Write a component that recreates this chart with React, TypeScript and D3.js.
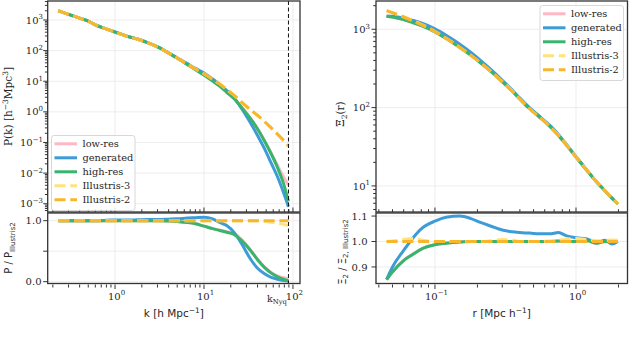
import React from "react";
import * as d3 from "d3";

// ---------- Data: power spectrum (left) ----------
const kValues = [0.23, 0.3, 0.4, 0.5, 0.6, 0.75, 0.9, 1.1, 1.4, 1.8, 2.3, 3, 4, 5, 6.5, 8, 10, 12.5, 15, 18, 22, 27, 33, 40, 48, 57, 67, 78, 89];
const pkIllustris2 = [2000, 1530, 1150, 920, 690, 540, 450, 365, 287, 235, 183, 132, 83, 57, 36, 25, 17.5, 11.6, 8.2, 5.4, 3.4, 1.97, 1.2, 0.77, 0.48, 0.3, 0.19, 0.12, 0.08];
const pkIllustris3 = [2000, 1530, 1150, 920, 690, 540, 450, 365, 287, 235, 183, 132, 83, 57, 36, 25, 17.5, 11.6, 8.2, 5.4, 3.4, 1.97, 1.2, 0.77, 0.475, 0.293, 0.182, 0.113, 0.074];
const pkGenerated = [2000, 1530, 1150, 920, 690, 543, 455, 369, 290, 239, 187, 135, 85, 58.7, 37.6, 26.3, 18.5, 11.9, 7.95, 4.97, 2.72, 1.18, 0.456, 0.169, 0.062, 0.021, 0.0076, 0.0024, 0.0008];
const pkHighRes = [2000, 1530, 1150, 920, 690, 540, 450, 365, 287, 235, 183, 132, 82.6, 56.1, 34.9, 23.8, 15.9, 10.1, 6.9, 4.37, 2.62, 1.3, 0.62, 0.277, 0.11, 0.042, 0.0152, 0.0048, 0.0012];
const pkLowRes = [2000, 1530, 1150, 920, 690, 540, 450, 365, 287, 235, 183, 132, 82.6, 56.1, 34.9, 23.8, 15.9, 10.1, 6.9, 4.43, 2.69, 1.34, 0.64, 0.285, 0.115, 0.045, 0.018, 0.0078, 0.004];

const ratioPkIllustris2 = kValues.map(() => 1);
const ratioPkIllustris3 = [1, 1, 1, 1, 1, 1, 1, 1, 1, 1, 1, 1, 1, 1, 1, 1, 1, 1, 1, 1, 1, 1, 1, 1, 0.99, 0.975, 0.96, 0.94, 0.92];
const ratioPkGenerated = [1, 1, 1, 1, 1, 1.005, 1.01, 1.01, 1.01, 1.015, 1.02, 1.02, 1.025, 1.03, 1.045, 1.05, 1.055, 1.03, 0.97, 0.92, 0.8, 0.6, 0.38, 0.22, 0.13, 0.07, 0.04, 0.02, 0.01];
const ratioPkHighRes = [1, 1, 1, 1, 1, 1, 1, 1, 1, 1, 1, 1, 0.995, 0.985, 0.97, 0.95, 0.91, 0.87, 0.84, 0.81, 0.77, 0.66, 0.52, 0.36, 0.23, 0.14, 0.08, 0.04, 0.015];
const ratioPkLowRes = [1, 1, 1, 1, 1, 1, 1, 1, 1, 1, 1, 1, 0.995, 0.985, 0.97, 0.95, 0.91, 0.87, 0.845, 0.82, 0.79, 0.68, 0.53, 0.37, 0.24, 0.15, 0.095, 0.065, 0.05];

// ---------- Data: correlation (right) ----------
const rValues = [0.0454, 0.05, 0.06, 0.07, 0.08, 0.1, 0.12, 0.15, 0.18, 0.21, 0.25, 0.3, 0.35, 0.4, 0.47, 0.55, 0.65, 0.75, 0.86, 1.0, 1.2, 1.4, 1.6, 1.8, 1.98];
const xiIllustris2 = [1730, 1627, 1434, 1274, 1145, 938, 766, 587, 464, 374, 288, 213, 164, 128, 96, 75.5, 57.9, 44, 32.8, 23.4, 15.6, 11.3, 8.7, 7.0, 5.9];
const xiIllustris3 = [1730, 1630, 1445, 1289, 1152, 938, 766, 587, 464, 374, 289, 215, 165, 128, 96, 75.5, 58, 44.2, 33.1, 23.7, 15.7, 11.3, 8.74, 7.04, 5.93];
const xiGenerated = [1470, 1464, 1384, 1293, 1202, 1013, 839, 646, 506, 402, 305, 223, 170, 132, 99.2, 77.8, 59.6, 45.5, 33.5, 23.75, 15.76, 11.25, 8.74, 6.93, 5.9];
const xiHighRes = [1470, 1432, 1326, 1210, 1111, 926, 761, 586, 464, 374, 288, 213, 164, 128, 96, 75.5, 57.9, 44.1, 32.8, 23.4, 15.6, 11.2, 8.7, 7.0, 5.9];
const xiLowRes = [1474, 1435, 1329, 1213, 1111, 927, 761, 586, 464, 374, 288, 213, 164, 128, 96, 75.5, 57.9, 44.1, 32.8, 23.4, 15.6, 11.2, 8.7, 7.0, 5.9];

const ratioXiIllustris2 = rValues.map(() => 1);
const ratioXiIllustris3 = [1.0, 1.002, 1.008, 1.012, 1.006, 1.0, 1.0, 1.0, 1.0, 1.0, 1.003, 1.008, 1.006, 1.0, 1.0, 1.0, 1.002, 1.005, 1.01, 1.012, 1.008, 1.003, 1.005, 1.006, 1.005];
const ratioXiGenerated = [0.85, 0.9, 0.965, 1.015, 1.05, 1.08, 1.095, 1.1, 1.09, 1.075, 1.06, 1.045, 1.038, 1.035, 1.033, 1.03, 1.03, 1.035, 1.022, 1.015, 1.01, 0.996, 1.005, 0.99, 1.0];
const ratioXiHighRes = [0.85, 0.88, 0.925, 0.95, 0.97, 0.987, 0.993, 0.998, 1.0, 1.0, 1.0, 1.0, 1.0, 1.0, 1.0, 1.0, 1.0, 1.002, 1.0, 1.0, 1.003, 0.993, 1.0, 1.0, 1.0];
const ratioXiLowRes = [0.852, 0.882, 0.927, 0.952, 0.97, 0.988, 0.994, 0.998, 1.0, 1.0, 1.0, 1.0, 1.0, 1.0, 1.0, 1.0, 1.0, 1.002, 1.0, 1.0, 1.003, 0.993, 1.0, 1.0, 1.0];

const seriesNames = ["low-res", "generated", "high-res", "Illustris-3", "Illustris-2"];
const kNyquist = 89;

// ---------- Styles ----------
const COLORS = ["#ffb7c3", "#3d9bd8", "#38b46c", "#ffe27c", "#f8b62b"];
const isDashed = (i: number) => i >= 3;
const LW = 3;
const DASH = "11,4.8";
const FRAME = "#333";
const GRID = "#ebebeb";
const SERIF = "DejaVu Serif";
const SANS = "DejaVu Sans";

const LX: [number, number] = [47.7, 300];
const RX: [number, number] = [376, 627.5];
const TOPY: [number, number] = [1, 212];
const BOTY: [number, number] = [213, 283.5];

const xK = d3.scaleLog().domain([0.175, 120]).range(LX);
const yPk = d3.scaleLog().domain([Math.pow(10, -3.27), Math.pow(10, 3.62)]).range([TOPY[1], TOPY[0]]);
const yPkRatio = d3.scaleLinear().domain([-0.03, 1.126]).range([BOTY[1], BOTY[0]]);
const xR = d3.scaleLog().domain([Math.pow(10, -1.418), Math.pow(10, 0.365)]).range(RX);
const yXi = d3.scaleLog().domain([Math.pow(10, 0.667), Math.pow(10, 3.361)]).range([TOPY[1], TOPY[0]]);
const yXiRatio = d3.scaleLinear().domain([0.835, 1.112]).range([BOTY[1], BOTY[0]]);

function logTicks(domain: number[]) {
  const out: { v: number; major: boolean; e: number }[] = [];
  const lo = Math.floor(Math.log10(domain[0]));
  const hi = Math.ceil(Math.log10(domain[1]));
  for (let e = lo; e <= hi; e++) {
    for (let m = 1; m <= 9; m++) {
      const v = m * Math.pow(10, e);
      if (v >= domain[0] * 0.9999 && v <= domain[1] * 1.0001) out.push({ v, major: m === 1, e });
    }
  }
  return out;
}
const fmtExp = (e: number) => (e < 0 ? "\u2212" + Math.abs(e) : String(e));

function PowLabel({ x, y, e, anchor, size = 10 }: any) {
  return (
    <text x={x} y={y} textAnchor={anchor} fontFamily={SERIF} fontSize={size} fill="#262626">
      10<tspan dy={-size * 0.42} fontSize={size * 0.7}>{fmtExp(e)}</tspan>
    </text>
  );
}

function Curves({ xs, ys, xScale, yScale, clip }: any) {
  return (
    <g clipPath={`url(#${clip})`}>
      {ys.map((vals: number[], i: number) => {
        const line = d3
          .line<number>()
          .x((_, j) => xScale(xs[j]))
          .y((d) => yScale(d))
          .curve(d3.curveMonotoneX);
        return (
          <path
            key={i}
            d={line(vals) || ""}
            fill="none"
            stroke={COLORS[i]}
            strokeWidth={LW}
            strokeDasharray={isDashed(i) ? DASH : undefined}
            strokeLinecap="butt"
            strokeLinejoin="round"
          />
        );
      })}
    </g>
  );
}

function Frame({ x, y }: { x: number[]; y: number[] }) {
  return <rect x={x[0]} y={y[0]} width={x[1] - x[0]} height={y[1] - y[0]} fill="none" stroke={FRAME} strokeWidth={1.3} />;
}

function Legend({ x, y }: { x: number; y: number }) {
  const w = 83.5;
  const h = 75;
  return (
    <g>
      <rect x={x} y={y} width={w} height={h} rx={2.5} fill="#fff" fillOpacity={0.85} stroke="#d4d4d4" strokeWidth={0.9} />
      {seriesNames.map((n, i) => {
        const cy = y + 8.3 + i * 14;
        return (
          <g key={n}>
            <line x1={x + 3} x2={x + 25.5} y1={cy} y2={cy} stroke={COLORS[i]} strokeWidth={LW} strokeDasharray={isDashed(i) ? DASH : undefined} />
            <text x={x + 31} y={cy} dominantBaseline="central" fontFamily={SERIF} fontSize={9.8} fill="#262626">
              {n}
            </text>
          </g>
        );
      })}
    </g>
  );
}

export default function App() {
  const kTicks = logTicks(xK.domain());
  const rTicks = logTicks(xR.domain());
  const pkTicks = logTicks(yPk.domain());
  const xiTicks = logTicks(yXi.domain());

  const xTickMarksTop = (ticks: any[], sc: any) =>
    ticks.map((t, i) => (
      <line key={"tt" + i} x1={sc(t.v)} x2={sc(t.v)} y1={TOPY[1]} y2={TOPY[1] - (t.major ? 4.5 : 2.8)} stroke={FRAME} strokeWidth={1} />
    ));
  const xTickMarksBot = (ticks: any[], sc: any) =>
    ticks.map((t, i) => (
      <line key={"tb" + i} x1={sc(t.v)} x2={sc(t.v)} y1={BOTY[1] + 1} y2={BOTY[1] + (t.major ? 5.5 : 4)} stroke={FRAME} strokeWidth={1} />
    ));
  const yTickMarks = (ticks: any[], sc: any, x0: number) =>
    ticks.map((t, i) => (
      <line key={"yt" + i} x1={x0} x2={x0 - (t.major ? 4.5 : 2.8)} y1={sc(t.v)} y2={sc(t.v)} stroke={FRAME} strokeWidth={1} />
    ));

  return (
    <svg width={640} height={342} style={{ position: "absolute", left: 0, top: 0, background: "#fff" }}>
      <defs>
        <clipPath id="cLT"><rect x={LX[0]} y={TOPY[0]} width={LX[1] - LX[0]} height={TOPY[1] - TOPY[0]} /></clipPath>
        <clipPath id="cLB"><rect x={LX[0]} y={BOTY[0]} width={LX[1] - LX[0]} height={BOTY[1] - BOTY[0]} /></clipPath>
        <clipPath id="cRT"><rect x={RX[0]} y={TOPY[0]} width={RX[1] - RX[0]} height={TOPY[1] - TOPY[0]} /></clipPath>
        <clipPath id="cRB"><rect x={RX[0]} y={BOTY[0]} width={RX[1] - RX[0]} height={BOTY[1] - BOTY[0]} /></clipPath>
      </defs>
      <rect x={0} y={0} width={640} height={342} fill="#fff" />

      {/* grids */}
      <g stroke={GRID} strokeWidth={0.9}>
        {kTicks.filter((t) => t.major).map((t, i) => (
          <g key={"gk" + i}>
            <line x1={xK(t.v)} x2={xK(t.v)} y1={TOPY[0]} y2={TOPY[1]} />
            <line x1={xK(t.v)} x2={xK(t.v)} y1={BOTY[0]} y2={BOTY[1]} />
          </g>
        ))}
        {pkTicks.filter((t) => t.major).map((t, i) => (
          <line key={"gp" + i} x1={LX[0]} x2={LX[1]} y1={yPk(t.v)} y2={yPk(t.v)} />
        ))}
        {[0, 0.5, 1].map((v) => (
          <line key={"gpr" + v} x1={LX[0]} x2={LX[1]} y1={yPkRatio(v)} y2={yPkRatio(v)} />
        ))}
        {rTicks.filter((t) => t.major).map((t, i) => (
          <g key={"gr" + i}>
            <line x1={xR(t.v)} x2={xR(t.v)} y1={TOPY[0]} y2={TOPY[1]} />
            <line x1={xR(t.v)} x2={xR(t.v)} y1={BOTY[0]} y2={BOTY[1]} />
          </g>
        ))}
        {xiTicks.filter((t) => t.major).map((t, i) => (
          <line key={"gx" + i} x1={RX[0]} x2={RX[1]} y1={yXi(t.v)} y2={yXi(t.v)} />
        ))}
        {[0.9, 1.0, 1.1].map((v) => (
          <line key={"gxr" + v} x1={RX[0]} x2={RX[1]} y1={yXiRatio(v)} y2={yXiRatio(v)} />
        ))}
      </g>

      {/* curves */}
      <Curves xs={kValues} ys={[pkLowRes, pkGenerated, pkHighRes, pkIllustris3, pkIllustris2]} xScale={xK} yScale={yPk} clip="cLT" />
      <Curves xs={kValues} ys={[ratioPkLowRes, ratioPkGenerated, ratioPkHighRes, ratioPkIllustris3, ratioPkIllustris2]} xScale={xK} yScale={yPkRatio} clip="cLB" />
      <Curves xs={rValues} ys={[xiLowRes, xiGenerated, xiHighRes, xiIllustris3, xiIllustris2]} xScale={xR} yScale={yXi} clip="cRT" />
      <Curves xs={rValues} ys={[ratioXiLowRes, ratioXiGenerated, ratioXiHighRes, ratioXiIllustris3, ratioXiIllustris2]} xScale={xR} yScale={yXiRatio} clip="cRB" />

      {/* Nyquist line */}
      <line x1={xK(kNyquist)} x2={xK(kNyquist)} y1={TOPY[0]} y2={BOTY[1]} stroke="#111" strokeWidth={1} strokeDasharray="4,2.5" />

      {/* frames */}
      <Frame x={LX} y={TOPY} />
      <Frame x={LX} y={BOTY} />
      <Frame x={RX} y={TOPY} />
      <Frame x={RX} y={BOTY} />

      {/* ticks */}
      {xTickMarksTop(kTicks, xK)}
      {xTickMarksBot(kTicks, xK)}
      {xTickMarksTop(rTicks, xR)}
      {xTickMarksBot(rTicks, xR)}
      {yTickMarks(pkTicks, yPk, LX[0])}
      {yTickMarks(xiTicks, yXi, RX[0])}
      {[0, 0.5, 1].map((v) => (
        <line key={"pr" + v} x1={LX[0]} x2={LX[0] - 4.5} y1={yPkRatio(v)} y2={yPkRatio(v)} stroke={FRAME} strokeWidth={1} />
      ))}
      {[0.9, 1.0, 1.1].map((v) => (
        <line key={"xr" + v} x1={RX[0]} x2={RX[0] - 4.5} y1={yXiRatio(v)} y2={yXiRatio(v)} stroke={FRAME} strokeWidth={1} />
      ))}

      {/* tick labels */}
      {pkTicks.filter((t) => t.major).map((t, i) => (
        <PowLabel key={"lp" + i} x={43} y={yPk(t.v) + 3.6} e={t.e} anchor="end" />
      ))}
      {xiTicks.filter((t) => t.major).map((t, i) => (
        <PowLabel key={"lx" + i} x={RX[0] - 6} y={yXi(t.v) + 3.6} e={t.e} anchor="end" />
      ))}
      {[0, 1].map((v) => (
        <text key={"lpr" + v} x={41.5} y={yPkRatio(v) + 3.6} textAnchor="end" fontFamily={SERIF} fontSize={10} fill="#262626">
          {v.toFixed(1)}
        </text>
      ))}
      {[0.9, 1.0, 1.1].map((v) => (
        <text key={"lxr" + v} x={RX[0] - 8.5} y={yXiRatio(v) + 3.6} textAnchor="end" fontFamily={SERIF} fontSize={10} fill="#262626">
          {v.toFixed(1)}
        </text>
      ))}
      {kTicks.filter((t) => t.major).map((t, i) => (
        <PowLabel key={"lk" + i} x={xK(t.v) + 1.5} y={299.5} e={t.e} anchor="middle" />
      ))}
      {rTicks.filter((t) => t.major).map((t, i) => (
        <PowLabel key={"lr" + i} x={xR(t.v) + 1.5} y={299.5} e={t.e} anchor="middle" />
      ))}
      <text x={xK(kNyquist) - 1.5} y={301.5} textAnchor="end" fontFamily={SERIF} fontSize={9.5} fill="#262626">
        k<tspan dy={2} fontSize={6.8}>Nyq</tspan>
      </text>

      {/* axis labels */}
      <text x={(LX[0] + LX[1]) / 2} y={316.5} textAnchor="middle" fontFamily={SANS} fontSize={10.5} fill="#262626">
        k [h Mpc<tspan dy={-4} fontSize={7.5}>{"\u2212"}1</tspan><tspan dy={4}>]</tspan>
      </text>
      <text x={(RX[0] + RX[1]) / 2} y={316.5} textAnchor="middle" fontFamily={SANS} fontSize={10.5} fill="#262626">
        r [Mpc h<tspan dy={-4} fontSize={7.5}>{"\u2212"}1</tspan><tspan dy={4}>]</tspan>
      </text>
      <text transform="translate(12,106.5) rotate(-90)" textAnchor="middle" fontFamily={SERIF} fontSize={10.5} fill="#262626">
        P(k) [h<tspan dy={-4} fontSize={7.5}>{"\u2212"}3</tspan><tspan dy={4}>Mpc</tspan><tspan dy={-4} fontSize={7.5}>3</tspan><tspan dy={4}>]</tspan>
      </text>
      <text transform="translate(12,248) rotate(-90)" textAnchor="middle" fontFamily={SANS} fontSize={10} fill="#262626">
        P / P<tspan dy={2.5} fontSize={7}>Illustris2</tspan>
      </text>
      <text transform="translate(344,114) rotate(-90)" textAnchor="middle" fontFamily={SERIF} fontSize={10.5} fill="#262626">
        Ξ<tspan dy={2.5} fontSize={7.5}>2</tspan><tspan dy={-2.5}>(r)</tspan>
      </text>
      <text transform="translate(345.5,252) rotate(-90)" textAnchor="middle" fontFamily={SANS} fontSize={10} fill="#262626">
        Ξ<tspan dy={2.5} fontSize={7}>2</tspan><tspan dy={-2.5}> / Ξ</tspan><tspan dy={2.5} fontSize={7}>2, Illustris2</tspan>
      </text>

      {/* legends */}
      <Legend x={51.5} y={135.5} />
      <Legend x={540} y={5.5} />
    </svg>
  );
}
